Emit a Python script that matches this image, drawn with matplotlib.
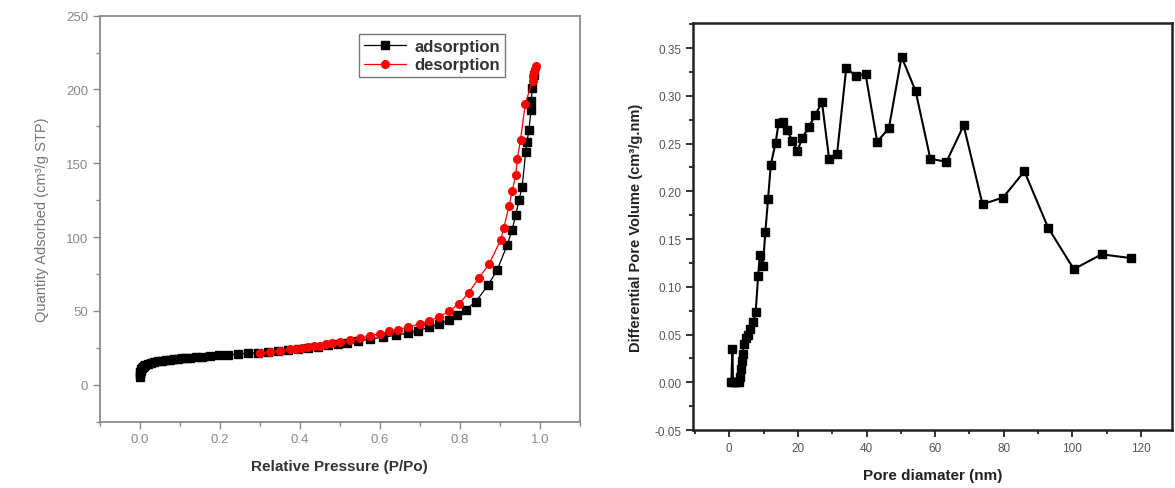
import matplotlib
matplotlib.use("Agg")
import matplotlib.pyplot as plt
from matplotlib.ticker import MultipleLocator

plt.rcParams['font.family'] = ['Liberation Sans', 'DejaVu Sans']

# N2 isotherm: adsorption branch
ads_p = [0.0005, 0.001, 0.0015, 0.002, 0.003, 0.005, 0.007, 0.01, 0.014, 0.02,
         0.027, 0.035, 0.045, 0.055, 0.065, 0.075, 0.085, 0.095, 0.105, 0.115,
         0.125, 0.14, 0.155, 0.175, 0.197, 0.221, 0.246, 0.271, 0.296, 0.32,
         0.345, 0.37, 0.395, 0.42, 0.445, 0.47, 0.495, 0.517, 0.546, 0.575,
         0.608, 0.641, 0.67, 0.695, 0.724, 0.749, 0.774, 0.794, 0.815, 0.84,
         0.871, 0.894, 0.919, 0.931, 0.94, 0.948, 0.956, 0.965, 0.968, 0.973,
         0.978, 0.979, 0.981, 0.985]
ads_q = [5.5, 7.0, 8.5, 9.5, 10.5, 11.5, 12.3, 13.0, 13.7, 14.3,
         14.9, 15.4, 15.9, 16.3, 16.7, 17.0, 17.3, 17.6, 17.9, 18.2,
         18.4, 18.8, 19.1, 19.5, 19.9, 20.3, 20.8, 21.3, 21.8, 22.4,
         23.0, 23.6, 24.3, 25.0, 25.8, 26.7, 27.6, 28.6, 29.8, 31.0,
         32.2, 33.6, 35.1, 36.7, 39.0, 41.2, 44.1, 47.1, 50.9, 56.2,
         67.6, 78.0, 95.0, 105.0, 115.0, 125.0, 134.0, 158.0, 164.6, 172.5,
         186.0, 192.0, 201.0, 210.0]

# desorption branch
des_p = [0.990, 0.988, 0.986, 0.984, 0.982, 0.964, 0.952, 0.944, 0.940, 0.931,
         0.923, 0.910, 0.902, 0.873, 0.848, 0.823, 0.799, 0.774, 0.749, 0.724,
         0.700, 0.670, 0.645, 0.624, 0.600, 0.575, 0.550, 0.525, 0.500, 0.480,
         0.465, 0.450, 0.435, 0.420, 0.405, 0.390, 0.376, 0.350, 0.326, 0.300]
des_q = [216.0, 214.0, 212.0, 209.0, 206.0, 190.5, 166.0, 153.0, 142.0, 131.0,
         121.0, 106.0, 98.0, 81.5, 72.5, 62.5, 55.0, 50.0, 46.0, 43.5,
         41.2, 39.0, 37.4, 36.2, 34.6, 33.0, 31.5, 30.2, 29.0, 28.0,
         27.3, 26.6, 26.0, 25.4, 24.9, 24.4, 23.9, 23.2, 22.3, 21.3]

# pore size distribution
pore_d = [0.6, 0.9, 1.1, 1.7, 2.3, 2.9, 3.2, 3.4, 3.6, 3.9,
          4.3, 4.8, 5.4, 6.0, 6.9, 7.7, 8.4, 8.9, 9.8, 10.5,
          11.3, 12.1, 13.5, 14.4, 15.7, 16.8, 18.4, 19.8, 21.3, 23.1,
          25.1, 27.0, 29.1, 31.4, 34.1, 36.8, 39.7, 43.1, 46.5, 50.2,
          54.3, 58.6, 63.3, 68.3, 73.8, 79.8, 86.0, 92.9, 100.4, 108.5,
          117.2]
pore_v = [0.0, 0.035, 0.0, 0.0, 0.0, 0.0, 0.006, 0.014, 0.022, 0.030,
          0.040, 0.046, 0.050, 0.056, 0.063, 0.074, 0.111, 0.133, 0.122, 0.157,
          0.192, 0.228, 0.251, 0.272, 0.273, 0.264, 0.253, 0.242, 0.256, 0.267,
          0.280, 0.2935, 0.234, 0.239, 0.3295, 0.321, 0.323, 0.252, 0.266, 0.341,
          0.305, 0.234, 0.231, 0.269, 0.1865, 0.1935, 0.221, 0.162, 0.1185, 0.134,
          0.130]

fig = plt.figure(figsize=(11.75, 4.89), dpi=100)

# ---- isotherm panel ----
gray = '#8a8a8a'
ax1 = fig.add_axes([0.0849, 0.1356, 0.4085, 0.8303])
ax1.plot(ads_p, ads_q, '-s', color='black', lw=0.9, ms=5.5, mec='black',
         label='adsorption')
ax1.plot(des_p, des_q, '-o', color='red', lw=0.9, ms=5.5, mec='red',
         label='desorption')
ax1.set_xlim(-0.1, 1.1)
ax1.set_ylim(-25, 250)
ax1.xaxis.set_major_locator(MultipleLocator(0.2))
ax1.xaxis.set_minor_locator(MultipleLocator(0.1))
ax1.yaxis.set_major_locator(MultipleLocator(50))
ax1.yaxis.set_minor_locator(MultipleLocator(25))
ax1.set_xticks([0.0, 0.2, 0.4, 0.6, 0.8, 1.0])
ax1.set_xticklabels(['0.0', '0.2', '0.4', '0.6', '0.8', '1.0'])
for s in ax1.spines.values():
    s.set_color(gray)
    s.set_linewidth(1.3)
ax1.tick_params(which='both', direction='out', colors=gray, labelsize=9.5,
                width=1.0)
ax1.tick_params(which='major', length=5)
ax1.tick_params(which='minor', length=3)
ax1.set_xlabel('Relative Pressure (P/Po)', fontsize=11, fontweight='bold',
               color='#333333', labelpad=10)
ax1.set_ylabel('Quantity Adsorbed (cm³/g STP)', fontsize=10.5,
               color='#777777', labelpad=12)
leg = ax1.legend(loc='upper right', bbox_to_anchor=(0.861, 0.975),
                 prop={'size': 12, 'weight': 'bold'}, fancybox=False,
                 handlelength=2.5, handletextpad=0.5, borderpad=0.3,
                 labelspacing=0.2, framealpha=1)
leg.get_frame().set_edgecolor('#777777')
leg.get_frame().set_linewidth(1.0)
for t in leg.get_texts():
    t.set_color('#333333')

# ---- pore size distribution panel ----
ax2 = fig.add_axes([0.590, 0.1186, 0.4074, 0.8317])
ax2.plot(pore_d, pore_v, '-s', color='black', lw=1.5, ms=6)
ax2.set_xlim(-10.5, 129)
ax2.set_ylim(-0.05, 0.376)
ax2.xaxis.set_major_locator(MultipleLocator(20))
ax2.xaxis.set_minor_locator(MultipleLocator(10))
ax2.yaxis.set_major_locator(MultipleLocator(0.05))
ax2.yaxis.set_minor_locator(MultipleLocator(0.025))
ax2.set_xticks([0, 20, 40, 60, 80, 100, 120])
ax2.set_yticks([-0.05, 0.0, 0.05, 0.10, 0.15, 0.20, 0.25, 0.30, 0.35])
ax2.set_yticklabels(['-0.05', '0.00', '0.05', '0.10', '0.15', '0.20',
                     '0.25', '0.30', '0.35'])
for s in ax2.spines.values():
    s.set_color('#222222')
    s.set_linewidth(1.8)
ax2.tick_params(which='both', direction='out', colors='#222222',
                labelcolor='#555555', labelsize=8.5, width=1.3)
ax2.tick_params(which='major', length=5)
ax2.tick_params(which='minor', length=3)
ax2.set_xlabel('Pore diamater (nm)', fontsize=11, fontweight='bold',
               color='#222222', labelpad=10)
ax2.set_ylabel('Differential Pore Volume (cm³/g.nm)', fontsize=10.5,
               fontweight='bold', color='#222222', labelpad=8)

fig.savefig('out.png', dpi=100)
